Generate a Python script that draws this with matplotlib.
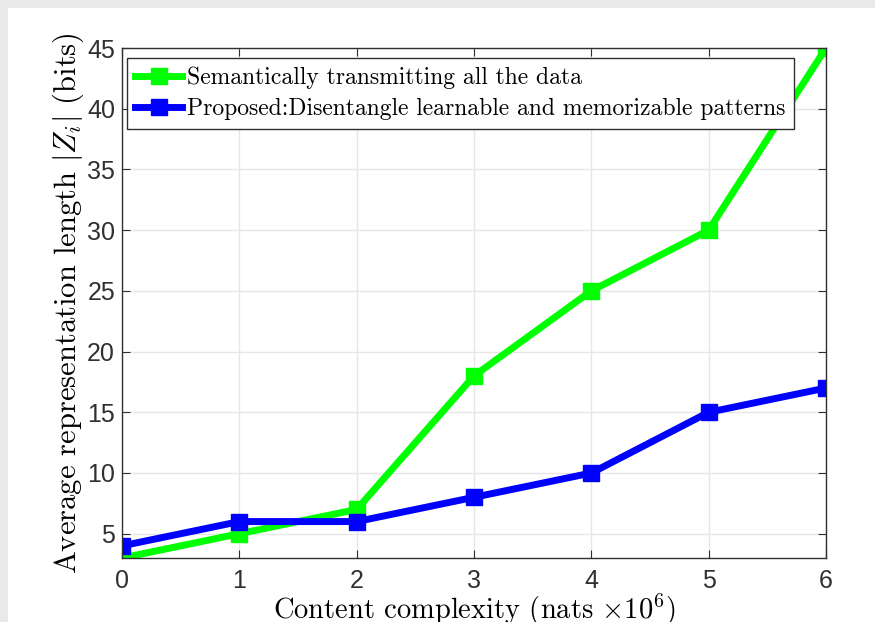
import numpy as np
import matplotlib.pyplot as plt
from matplotlib.patches import Rectangle

# dados
x_vals = [0, 1, 2, 3, 4, 5, 6]
full_data = [3, 5, 7, 18, 25, 30, 45]
proposed = [4, 6, 6, 8, 10, 15, 17]
label_full = 'Semantically transmitting all the data'
label_prop = 'Proposed:Disentangle learnable and memorizable patterns'

plt.rcParams['mathtext.fontset'] = 'cm'
plt.rcParams['font.family'] = ['Liberation Sans', 'DejaVu Sans']
serif = 'cmr10'

fig = plt.figure(figsize=(8.75, 6.22), dpi=100, facecolor='#e9e9e9')
fig.patches.append(Rectangle((8 / 875, 0), 1, 1 - 8 / 622, transform=fig.transFigure,
                             facecolor='white', edgecolor='none', zorder=-1))

ax = fig.add_axes([122 / 875, 1 - 558 / 622, 704 / 875, 510 / 622])
ax.plot(x_vals, full_data, '-s', color='#00ff00', lw=5, ms=11, label=label_full)
ax.plot(x_vals, proposed, '-s', color='#0000ff', lw=5, ms=11, label=label_prop)

ax.set_xlim(0, 6)
ax.set_ylim(3, 45)
ax.set_xticks(range(0, 7))
ax.set_yticks(range(5, 46, 5))
ax.grid(True, color='#e6e6e6', lw=1)
ax.set_axisbelow(True)
ax.tick_params(direction='in', top=True, right=True, labelsize=18, length=6,
               colors='#303030')
ax.tick_params(axis='x', pad=8)
ax.tick_params(axis='y', pad=5)
for s in ax.spines.values():
    s.set_color('#303030')
    s.set_linewidth(1)

ax.set_xlabel(r'Content complexity (nats $\times10^6$)', family=serif, fontsize=20.5,
              labelpad=-1)
ax.set_ylabel(r'Average representation length $|Z_i|$ (bits)', family=serif, fontsize=22,
              labelpad=1)

leg = ax.legend(loc='upper left', bbox_to_anchor=(5 / 704, 1 - 10 / 510),
                prop={'family': serif, 'size': 17}, fancybox=False,
                edgecolor='#303030', framealpha=1, handlelength=2.0, handletextpad=0.2,
                borderaxespad=0, borderpad=0.35, labelspacing=0.4)
leg.get_frame().set_linewidth(1)

plt.savefig('out.png', dpi=100, facecolor=fig.get_facecolor())
